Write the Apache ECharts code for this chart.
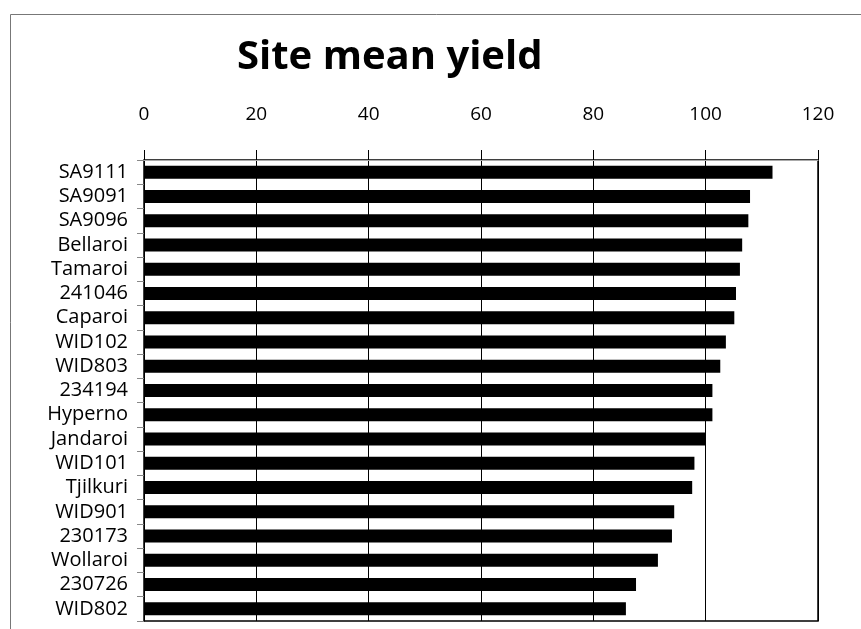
<!DOCTYPE html>
<html>
<head>
<meta charset="utf-8">
<script src="https://cdn.jsdelivr.net/npm/echarts@6/dist/echarts.min.js"></script>
<style>html,body{margin:0;padding:0;background:#fff}#c{width:861px;height:629px}</style>
</head>
<body>
<div id="c"></div>
<script>
const categories = ["SA9111","SA9091","SA9096","Bellaroi","Tamaroi","241046","Caparoi","WID102","WID803","234194","Hyperno","Jandaroi","WID101","Tjilkuri","WID901","230173","Wollaroi","230726","WID802"];
const yieldValues = [111.9,107.9,107.6,106.5,106.1,105.4,105.1,103.6,102.6,101.2,101.2,100.0,98.0,97.6,94.4,94.0,91.5,87.6,85.8];
const tickMin = 0, tickMax = 120, tickStep = 20;
const titleText = "Site mean yield";

const chart = echarts.init(document.getElementById('c'));
const fontFam = '"Open Sans", sans-serif';
chart.setOption({
  animation: false,
  backgroundColor: '#fff',
  graphic: [{
    type: 'rect', left: 8, top: 12, shape: {width: 900, height: 700},
    style: {fill: 'none', stroke: '#777', lineWidth: 1}, silent: true, z: -1
  }],
  title: {
    text: titleText, left: 232, top: 33,
    textStyle: {fontFamily: '"Open Sans", sans-serif', fontWeight: 'bold', fontSize: 40, color: '#000'}
  },
  grid: {left: 144, right: 43, top: 160, bottom: 8, show: true, borderColor: '#000', borderWidth: 1.5, backgroundColor: 'transparent'},
  xAxis: {
    type: 'value', position: 'top', min: tickMin, max: tickMax, interval: tickStep,
    axisLine: {show: true, lineStyle: {color: '#aaa', width: 1}},
    axisTick: {show: true, inside: false, length: 10, lineStyle: {color: '#000'}},
    splitLine: {show: true, lineStyle: {color: '#000', width: 1}},
    axisLabel: {fontFamily: fontFam, fontSize: 19, color: '#000', margin: 36}
  },
  yAxis: {
    type: 'category', data: categories, inverse: true,
    axisLine: {show: true, lineStyle: {color: '#000', width: 1}},
    axisTick: {show: true, length: 7, interval: 0, lineStyle: {color: '#888'}},
    axisLabel: {fontFamily: fontFam, fontSize: 20, color: '#000', margin: 16, interval: 0, hideOverlap: false, lineHeight: 20}
  },
  series: [{
    type: 'bar', data: yieldValues, barWidth: 13,
    itemStyle: {color: '#000'}
  }]
});
</script>
</body>
</html>
